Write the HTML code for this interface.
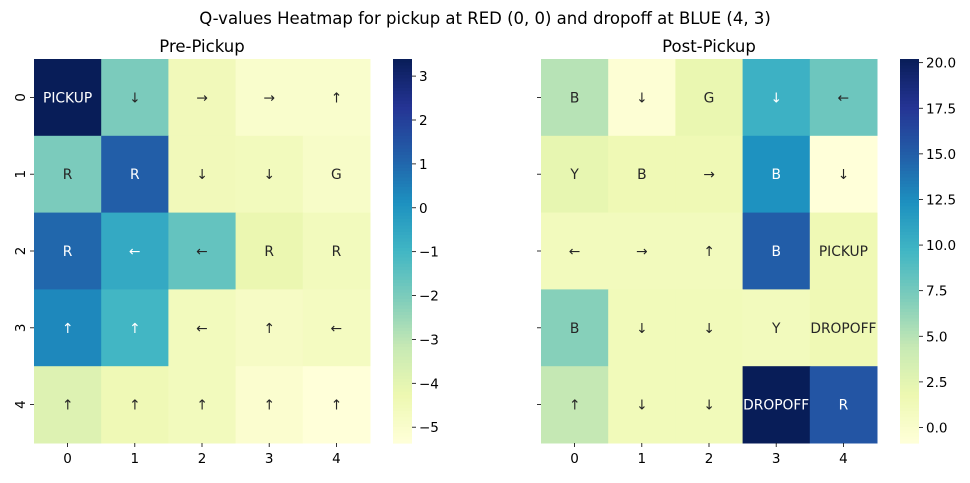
<!DOCTYPE html>
<html><head><meta charset="utf-8"><style>
body{margin:0;background:#fff;}
svg text{font-family:"DejaVu Sans","Liberation Sans",sans-serif;}
</style></head><body>
<svg id="chart" width="970" height="478" xmlns="http://www.w3.org/2000/svg">
<text x="485" y="24" text-anchor="middle" font-size="16.5" fill="#000">Q-values Heatmap for pickup at RED (0, 0) and dropoff at BLUE (4, 3)</text>
<text x="202" y="52" text-anchor="middle" font-size="16.5" fill="#000">Pre-Pickup</text>
<text x="709" y="52" text-anchor="middle" font-size="16.5" fill="#000">Post-Pickup</text>
</svg>
<script>
const rowLabels = ["0","1","2","3","4"];
const colLabels = ["0","1","2","3","4"];
const preValues = [
 [3.39,-2.0,-4.5,-5.0,-5.0],
 [-2.0,1.2,-4.5,-4.6,-4.9],
 [1.0,-0.6,-1.6,-4.2,-4.6],
 [0.3,-1.0,-4.6,-4.8,-4.7],
 [-3.8,-4.4,-4.6,-5.1,-5.36]];
const preAnnot = [
 ["PICKUP","↓","→","→","↑"],
 ["R","R","↓","↓","G"],
 ["R","←","←","R","R"],
 ["↑","↑","←","↑","←"],
 ["↑","↑","↑","↑","↑"]];
const postValues = [
 [5.0,-0.5,2.0,10.0,7.8],
 [2.2,1.5,1.5,12.2,-0.85],
 [1.0,1.0,1.0,15.0,1.5],
 [6.8,1.2,1.2,1.0,1.5],
 [4.5,1.2,1.2,20.2,15.5]];
const postAnnot = [
 ["B","↓","G","↓","←"],
 ["Y","B","→","B","↓"],
 ["←","→","↑","B","PICKUP"],
 ["B","↓","↓","Y","DROPOFF"],
 ["↑","↓","↓","DROPOFF","R"]];
const preTicks = [3,2,1,0,-1,-2,-3,-4,-5];
const postTicks = [20,17.5,15,12.5,10,7.5,5,2.5,0];
const preRange = [-5.36,3.39];
const postRange = [-0.85,20.2];

const NS="http://www.w3.org/2000/svg";
const svg=document.getElementById('chart');
const stops=["#ffffd9","#edf8b1","#c7e9b4","#7fcdbb","#41b6c4","#1d91c0","#225ea8","#253494","#081d58"].map(h=>[1,3,5].map(i=>parseInt(h.substr(i,2),16)));
function cmap(t){t=Math.max(0,Math.min(1,t));const p=t*8,i=Math.min(7,Math.floor(p)),f=p-i;
 return stops[i].map((c,k)=>Math.round(c+(stops[i+1][k]-c)*f));}
function rgb(c){return `rgb(${c[0]},${c[1]},${c[2]})`;}
function lum(c){const l=c.map(v=>{v/=255;return v<=0.03928?v/12.92:Math.pow((v+0.055)/1.055,2.4)});return 0.2126*l[0]+0.7152*l[1]+0.0722*l[2];}
function el(tag,attrs,txt){const e=document.createElementNS(NS,tag);for(const k in attrs)e.setAttribute(k,attrs[k]);if(txt!==undefined)e.textContent=txt;svg.appendChild(e);return e;}

function heatmap(prefix,x0,values,annot,range,ticks,cbx,showY,fmt){
 const y0=59,y1=443,x1=x0+336;
 const cw=(x1-x0)/colLabels.length, ch=(y1-y0)/rowLabels.length;
 const xs=j=>x0+j*cw, ys=i=>y0+i*ch;
 const norm=v=>(v-range[0])/(range[1]-range[0]);
 values.forEach((row,i)=>row.forEach((v,j)=>{
  const c=cmap(norm(v));
  const r=el('rect',{x:xs(j),y:ys(i),width:cw+0.5,height:ch+0.5,fill:rgb(c)});
  
  
  const t=el('text',{x:xs(j)+cw/2,y:ys(i)+ch/2+5,'text-anchor':'middle','font-size':13.8,fill:lum(c)>0.408?'#262626':'#fff'},annot[i][j]);
  
  
 }));
 colLabels.forEach((l,j)=>{
  const cx=xs(j)+cw/2;
  const tk=el('line',{x1:cx,x2:cx,y1:y1,y2:y1+4,stroke:'#000','stroke-width':0.8});
  
  
  const t=el('text',{x:cx,y:y1+20,'text-anchor':'middle','font-size':13.5,fill:'#000'},l);
  
  
 });
 rowLabels.forEach((l,i)=>{
  const cy=ys(i)+ch/2;
  const tk=el('line',{x1:x0-4,x2:x0,y1:cy,y2:cy,stroke:'#000','stroke-width':0.8});
  
  
  if(showY){
   const t=el('text',{x:0,y:0,transform:`translate(${x0-9},${cy}) rotate(-90)`,'text-anchor':'middle','font-size':13.5,fill:'#000'},l);
   
   
  }
 });
 const N=120;const h=(y1-y0)/N;
 for(let k=0;k<N;k++){
  const r=el('rect',{x:cbx,y:y0+k*h,width:19,height:h+0.6,fill:rgb(cmap(1-(k+0.5)/N))});
  
  
 }
 const cy=v=>y1-norm(v)*(y1-y0);
 ticks.forEach(v=>{
  const yy=cy(v);
  const tk=el('line',{x1:cbx+19,x2:cbx+23,y1:yy,y2:yy,stroke:'#000','stroke-width':0.8});
  
  
  const t=el('text',{x:cbx+26,y:yy+5,'font-size':13.5,fill:'#000'},fmt(v));
  
  
 });
}
heatmap('pre',34,preValues,preAnnot,preRange,preTicks,393,true,v=>v<0?'\u2212'+(-v):String(v));
heatmap('post',541,postValues,postAnnot,postRange,postTicks,900,false,v=>v.toFixed(1));
</script>
</body></html>
